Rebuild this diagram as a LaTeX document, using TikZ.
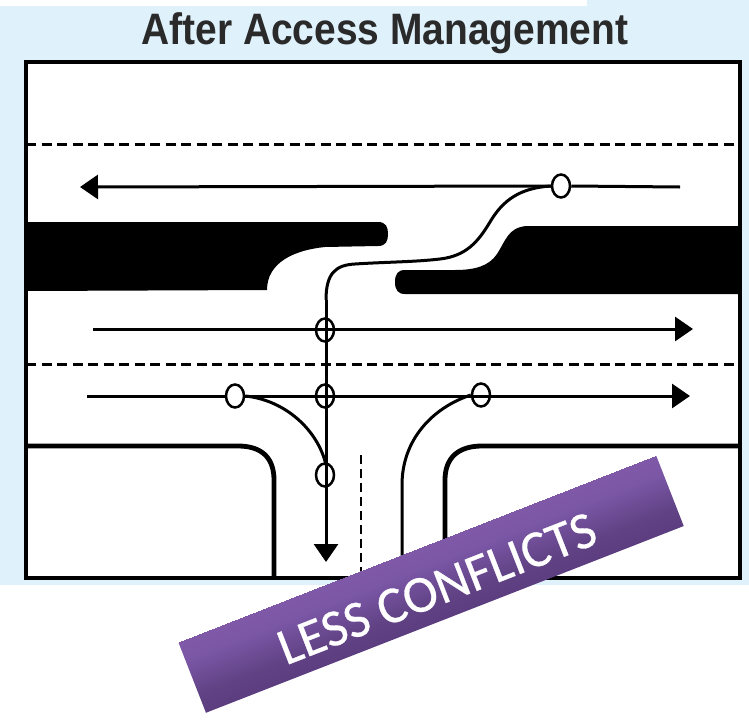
\documentclass[tikz,border=0pt]{standalone}
\usepackage{fontspec}
\setmainfont{Liberation Sans}
\newfontfamily\bannerfont[FakeBold=0.6]{Carlito}
\usetikzlibrary{arrows.meta,shapes.geometric}
\definecolor{skybg}{HTML}{DFF1FB}
\definecolor{titleink}{HTML}{2A2A2A}
\pgfdeclareverticalshading{bannershade}{513pt}{rgb(0pt)=(0.36,0.24,0.50);rgb(20pt)=(0.38,0.26,0.52);rgb(56pt)=(0.48,0.34,0.65);rgb(76pt)=(0.50,0.35,0.66)}
\tikzset{
  conflict/.style={ellipse,draw=black,line width=2.5pt,minimum width=18pt,minimum height=23pt,inner sep=0pt},
  conflictfilled/.style={conflict,fill=white},
  travel/.style={line width=3pt,-{Triangle[length=18pt,width=24pt]}},
  plainlane/.style={line width=3pt},
  lanemark/.style={line width=3pt,dash pattern=on 10pt off 5.5pt},
  kerb/.style={line width=4.8pt},
  turnpath/.style={line width=3pt},
  island/.style={fill=black,draw=none},
}
\begin{document}
\begin{tikzpicture}[x=1pt,y=-1pt]
\useasboundingbox (0,0) rectangle (749,720);
% backdrop
\fill[skybg] (0,6) rectangle (749,585);
\fill[skybg] (587,0) rectangle (749,6);
\node[inner sep=0pt,anchor=base,text=titleink] (title) at (385,44)
  {\scalebox{0.885}[1]{\fontsize{44}{44}\selectfont\bfseries After Access Management}};
% frame
\fill[white] (26,62) rectangle (740,578);
% medians
\path[island] (26,222) -- (378,222) .. controls (386,222) and (388,227) .. (388,234)
  .. controls (388,241) and (386,246) .. (378,246) -- (325,247)
  .. controls (295,250) and (267,262) .. (267,290) -- (26,291) -- cycle;
\path[island] (741,226) -- (526,226) .. controls (508,228) and (506,240) .. (497,254)
  .. controls (489,266) and (475,270) .. (455,270) -- (405,270)
  .. controls (398,270) and (395,274) .. (395,282) .. controls (395,290) and (398,294) .. (405,294)
  -- (741,294) -- cycle;
% lane lines
\coordinate (dashAL) at (26,144); \coordinate (dashAR) at (740,144);
\coordinate (dashBL) at (26,364); \coordinate (dashBR) at (740,364);
\coordinate (dashCT) at (361,455); \coordinate (dashCB) at (361,578);
\draw[lanemark] (dashAL) -- (dashAR);
\draw[lanemark] (dashBL) -- (dashBR);
\draw[line width=2.2pt,dash pattern=on 9pt off 5pt] (dashCT) -- (dashCB);
% kerbs
\coordinate (kerbLa) at (26,446); \coordinate (kerbLb) at (274,578);
\coordinate (kerbRa) at (740,446); \coordinate (kerbRb) at (445,578);
\draw[kerb] (kerbLa) -- (238,446) .. controls (262,446) and (274,458) .. (274,480) -- (kerbLb);
\draw[kerb] (kerbRa) -- (482,446) .. controls (458,446) and (445,458) .. (445,480) -- (kerbRb);
% conflict points
\node[conflictfilled] (cTop) at (561,186) {};
\node[conflict] (cA) at (325,330) {};
\node[conflictfilled] (cB) at (235,396) {};
\node[conflict] (cC) at (325,396) {};
\node[conflict] (cD) at (481,395) {};
\node[conflict] (cE) at (325,475) {};
% through movements
\coordinate (upR) at (680,187); \coordinate (upL) at (80,187);
\coordinate (midL) at (93,329); \coordinate (midR) at (693,329);
\coordinate (lowL) at (87,396); \coordinate (lowR) at (690,396);
\coordinate (downStart) at (326,300); \coordinate (downEnd) at (326,562); \coordinate (rightDrive) at (402,578);
\draw[plainlane] (upR) -- (cTop.east);
\draw[travel] (cTop.west) -- (upL);
\draw[travel] (midL) -- (midR);
\draw[plainlane] (lowL) -- (cB.west);
\draw[travel] (cB.east) -- (lowR);
% turning movements
\draw[turnpath] (cTop.west) .. controls (520,188) and (503,200) .. (490,222)
  .. controls (478,242) and (466,256) .. (440,259)
  .. controls (415,262) and (385,262) .. (355,264)
  .. controls (335,265) and (326,274) .. (downStart);
\draw[travel] (downStart) -- (downEnd);
\draw[turnpath] (cB.east) .. controls (285,400) and (318,430) .. (326,465);
\draw[turnpath] (cD.west) .. controls (432,408) and (402,440) .. (402,485) -- (rightDrive);
% frame outline
\draw[line width=3.2pt,black] (26,62) rectangle (740,578);
% banner
\node[inner sep=0pt,outer sep=0pt,rotate=21.35] (banner) at (431,584) {\pgfuseshading{bannershade}};
\node[inner sep=0pt,rotate=21.35,text=white] (bannerlabel) at ([shift={(6,4.5)}]banner.center)
  {\fontsize{52}{52}\selectfont\bannerfont LESS CONFLICTS};
\end{tikzpicture}
\end{document}
